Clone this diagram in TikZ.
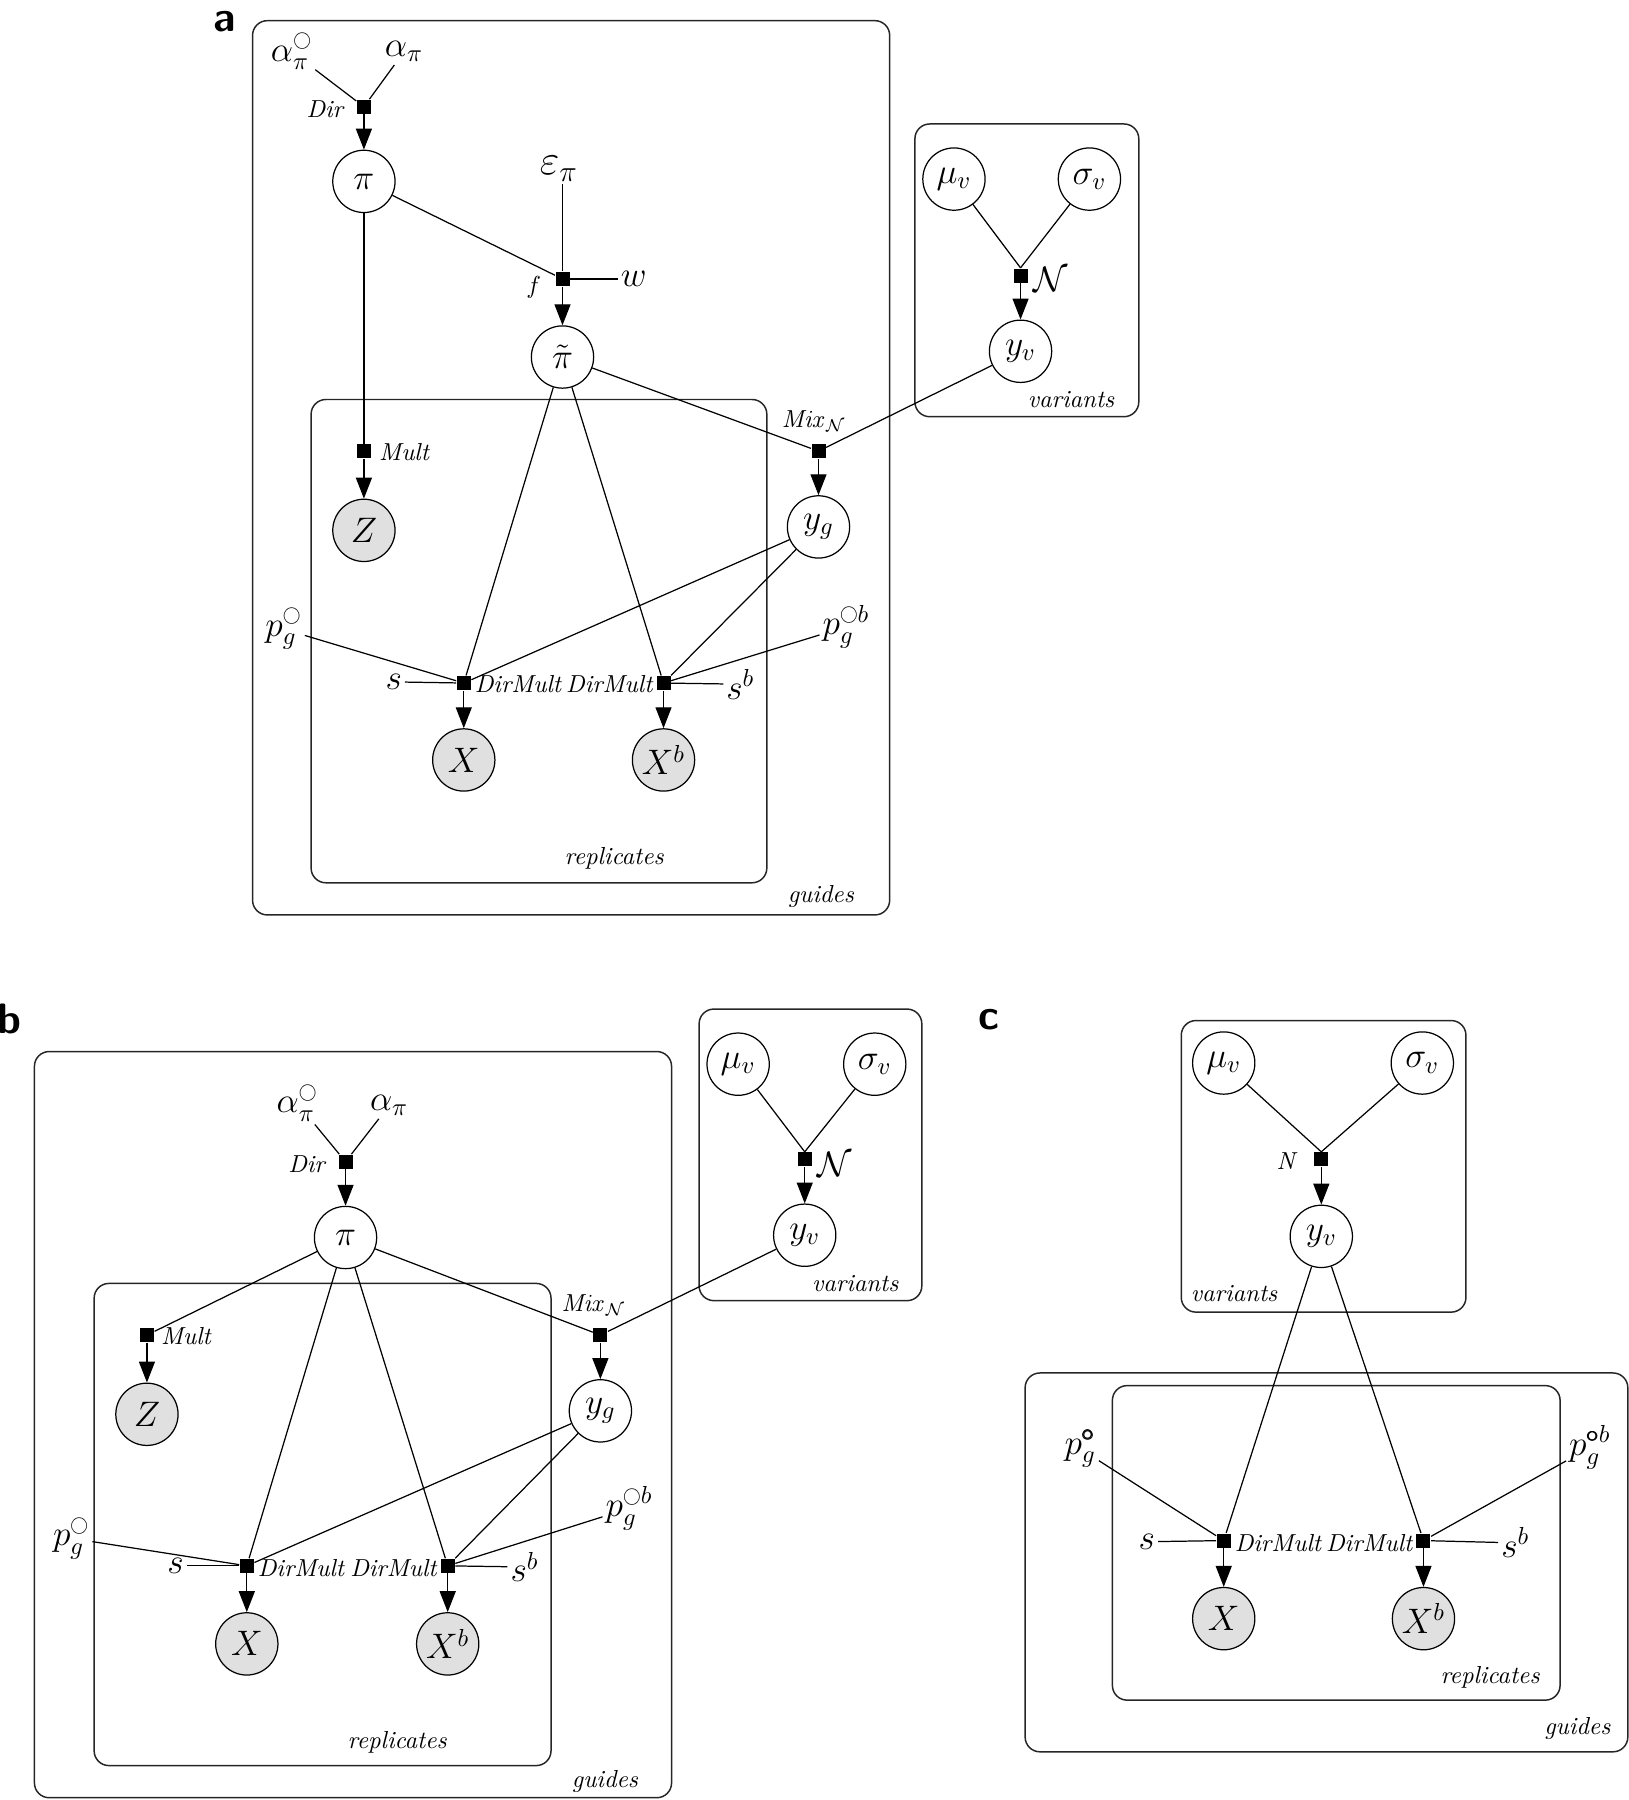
\documentclass[tikz,border=0pt]{standalone}
\usepackage{amsmath,amssymb}
\usepackage{tikz}
\usetikzlibrary{arrows.meta, positioning, calc}
\newcommand{\pring}{\raisebox{1pt}{\scalebox{0.5}{$\bigcirc$}}}

\begin{document}
\begin{tikzpicture}[x=0.0164cm, y=-0.0164cm, line width=0.5pt,
    rv/.style={circle, draw, minimum size=0.89cm, inner sep=0pt, font=\Large},
    obs/.style={rv, fill=black!12},
    fac/.style={rectangle, fill=black, minimum size=0.2cm, inner sep=0pt},
    hyp/.style={inner sep=1pt, font=\Large},
    flab/.style={font=\itshape, inner sep=1pt},
    plate/.style={draw=black!85, line width=0.6pt, rounded corners=6pt},
    platelab/.style={font=\itshape},
    panel/.style={font=\sffamily\bfseries\LARGE, inner sep=0pt},
    edge/.style={-{Triangle[length=8.5pt,width=6.5pt]}}]
  \useasboundingbox (0,0) rectangle (1419,1568);
  % panel a: plates
  \node[panel] (la) at (196,19) {a};
  \draw[plate] (220,18) rectangle (775,797);
  \draw[plate] (271,348) rectangle (668,769);
  \draw[plate] (797,108) rectangle (992,363);
  \node[platelab] (ga) at (715,781) {guides};
  \node[platelab] (ra) at (535,748) {replicates};
  \node[platelab] (va) at (933,348) {variants};
  % panel a: prior on pi
  \node[hyp] (a0a) at (254,45) {$\alpha_\pi^{\pring}$};
  \node[hyp] (a1a) at (352,45) {$\alpha_\pi$};
  \node[fac] (dira) at (317,93) {};
  \node[flab] (dirla) at (283,95) {Dir};
  \node[rv] (pia) at (317,158) {$\pi$};
  \draw (a0a) -- (dira);
  \draw (a1a) -- (dira);
  \draw[edge] (dira) -- (pia);
  % panel a: f(pi, eps, w)
  \node[hyp, font=\LARGE] (epsa) at (487,147) {$\varepsilon_\pi$};
  \node[fac] (fa) at (490,243) {};
  \node[flab] (fla) at (465,250) {$f$};
  \node[hyp] (wa) at (552,243) {$w$};
  \node[rv] (pta) at (490,311) {$\tilde{\pi}$};
  \draw (fa) -- (fa |- epsa.south);
  \draw (fa) -- (wa);
  \draw (pia) -- (fa);
  \draw[edge] (fa) -- (pta);
  % panel a: Z
  \node[fac] (multa) at (317,393) {};
  \node[flab] (multla) at (352,394) {Mult};
  \node[obs] (za) at (317,462) {$Z$};
  \draw (pia) -- (multa);
  \draw[edge] (multa) -- (za);
  % panel a: variants
  \node[rv] (mua) at (831,156) {$\mu_v$};
  \node[rv] (sga) at (949,156) {$\sigma_v$};
  \node[fac] (na) at (889,240) {};
  \node[hyp] (nla) at (915,243) {$\mathcal{N}$};
  \node[rv] (yva) at (889,306) {$y_v$};
  \draw (mua) -- (na.north);
  \draw (sga) -- (na.north);
  \draw[edge] (na) -- (yva);
  % panel a: y_g
  \node[fac] (mixa) at (713,393) {};
  \node[flab] (mixla) at (709,367) {$\mathit{Mix}_{\mathcal{N}}$};
  \node[rv] (yga) at (713,459) {$y_g$};
  \draw (pta) -- (mixa);
  \draw (yva) -- (mixa);
  \draw[edge] (mixa) -- (yga);
  % panel a: counts
  \node[fac] (d1a) at (404,595) {};
  \node[flab, anchor=west] (d1la) at (411,596) {DirMult};
  \node[fac] (d2a) at (578,595) {};
  \node[flab, anchor=east] (d2la) at (571,596) {DirMult};
  \node[hyp] (sa) at (343,594) {$s$};
  \node[hyp] (sba) at (645,596) {$s^b$};
  \node[hyp] (pga) at (247,548) {$p_g^{\pring}$};
  \node[hyp] (pgba) at (737,546) {$p_g^{\pring b}$};
  \node[obs] (xa) at (404,662) {$X$};
  \node[obs] (xba) at (578,662) {$X^b$};
  \foreach \src in {sa, pga, pta, yga} \draw (\src) -- (d1a);
  \foreach \src in {sba, pgba, pta, yga} \draw (\src) -- (d2a);
  \draw[edge] (d1a) -- (xa);
  \draw[edge] (d2a) -- (xba);

  % panel b: plates
  \node[panel] (lb) at (8,888) {b};
  \draw[plate] (30,916) rectangle (585,1566);
  \draw[plate] (82,1118) rectangle (480,1538);
  \draw[plate] (609,879) rectangle (803,1133);
  \node[platelab] (gb) at (527,1552) {guides};
  \node[platelab] (rb) at (346,1518) {replicates};
  \node[platelab] (vb) at (745,1118) {variants};
  % panel b: prior on pi
  \node[hyp] (a0b) at (259,961) {$\alpha_\pi^{\pring}$};
  \node[hyp] (a1b) at (339,963) {$\alpha_\pi$};
  \node[fac] (dirb) at (301,1012) {};
  \node[flab] (dirlb) at (267,1014) {Dir};
  \node[rv] (pib) at (301,1078) {$\pi$};
  \draw (a0b) -- (dirb);
  \draw (a1b) -- (dirb);
  \draw[edge] (dirb) -- (pib);
  % panel b: Z
  \node[fac] (multb) at (128,1163) {};
  \node[flab] (multlb) at (162,1164) {Mult};
  \node[obs] (zb) at (128,1232) {$Z$};
  \draw (pib) -- (multb);
  \draw[edge] (multb) -- (zb);
  % panel b: variants
  \node[rv] (mub) at (643,927) {$\mu_v$};
  \node[rv] (sgb) at (762,927) {$\sigma_v$};
  \node[fac] (nb) at (701,1010) {};
  \node[hyp] (nlb) at (727,1014) {$\mathcal{N}$};
  \node[rv] (yvb) at (701,1076) {$y_v$};
  \draw (mub) -- (nb.north);
  \draw (sgb) -- (nb.north);
  \draw[edge] (nb) -- (yvb);
  % panel b: y_g
  \node[fac] (mixb) at (523,1163) {};
  \node[flab] (mixlb) at (517,1137) {$\mathit{Mix}_{\mathcal{N}}$};
  \node[rv] (ygb) at (523,1229) {$y_g$};
  \draw (pib) -- (mixb);
  \draw (yvb) -- (mixb);
  \draw[edge] (mixb) -- (ygb);
  % panel b: counts
  \node[fac] (d1b) at (215,1364) {};
  \node[flab, anchor=west] (d1lb) at (222,1366) {DirMult};
  \node[fac] (d2b) at (390,1364) {};
  \node[flab, anchor=east] (d2lb) at (383,1366) {DirMult};
  \node[hyp] (sb) at (153,1364) {$s$};
  \node[hyp] (sbb) at (457,1365) {$s^b$};
  \node[hyp] (pgb) at (62,1340) {$p_g^{\pring}$};
  \node[hyp] (pgbb) at (548,1314) {$p_g^{\pring b}$};
  \node[obs] (xb) at (215,1432) {$X$};
  \node[obs] (xbb) at (390,1432) {$X^b$};
  \foreach \src in {sb, pgb, pib, ygb} \draw (\src) -- (d1b);
  \foreach \src in {sbb, pgbb, pib, ygb} \draw (\src) -- (d2b);
  \draw[edge] (d1b) -- (xb);
  \draw[edge] (d2b) -- (xbb);

  % panel c: plates
  \node[panel] (lc) at (861,888) {c};
  \draw[plate] (1029,889) rectangle (1277,1143);
  \draw[plate] (893,1196) rectangle (1418,1526);
  \draw[plate] (969,1207) rectangle (1359,1481);
  \node[platelab] (vc) at (1075,1127) {variants};
  \node[platelab] (gc) at (1374,1506) {guides};
  \node[platelab] (rc) at (1298,1461) {replicates};
  % panel c: variants
  \node[rv] (muc) at (1066,926) {$\mu_v$};
  \node[rv] (sgc) at (1239,926) {$\sigma_v$};
  \node[fac] (nc) at (1151,1010) {};
  \node[flab] (nlc) at (1120,1011) {N};
  \node[rv] (yvc) at (1151,1077) {$y_v$};
  \draw (muc) -- (nc.north);
  \draw (sgc) -- (nc.north);
  \draw[edge] (nc) -- (yvc);
  % panel c: counts
  \node[fac] (d1c) at (1066,1342) {};
  \node[flab, anchor=west] (d1lc) at (1073,1344) {DirMult};
  \node[fac] (d2c) at (1240,1342) {};
  \node[flab, anchor=east] (d2lc) at (1233,1344) {DirMult};
  \node[hyp] (sc) at (999,1343) {$s$};
  \node[hyp] (sbc) at (1320,1344) {$s^b$};
  \node[hyp] (pgc) at (941,1262) {$p_g^{\pmb{\circ}}$};
  \node[hyp] (pgbc) at (1385,1261) {$p_g^{\pmb{\circ} b}$};
  \node[obs] (xc) at (1066,1410) {$X$};
  \node[obs] (xbc) at (1240,1410) {$X^b$};
  \foreach \src in {sc, pgc, yvc} \draw (\src) -- (d1c);
  \foreach \src in {sbc, pgbc, yvc} \draw (\src) -- (d2c);
  \draw[edge] (d1c) -- (xc);
  \draw[edge] (d2c) -- (xbc);
\end{tikzpicture}
\end{document}
